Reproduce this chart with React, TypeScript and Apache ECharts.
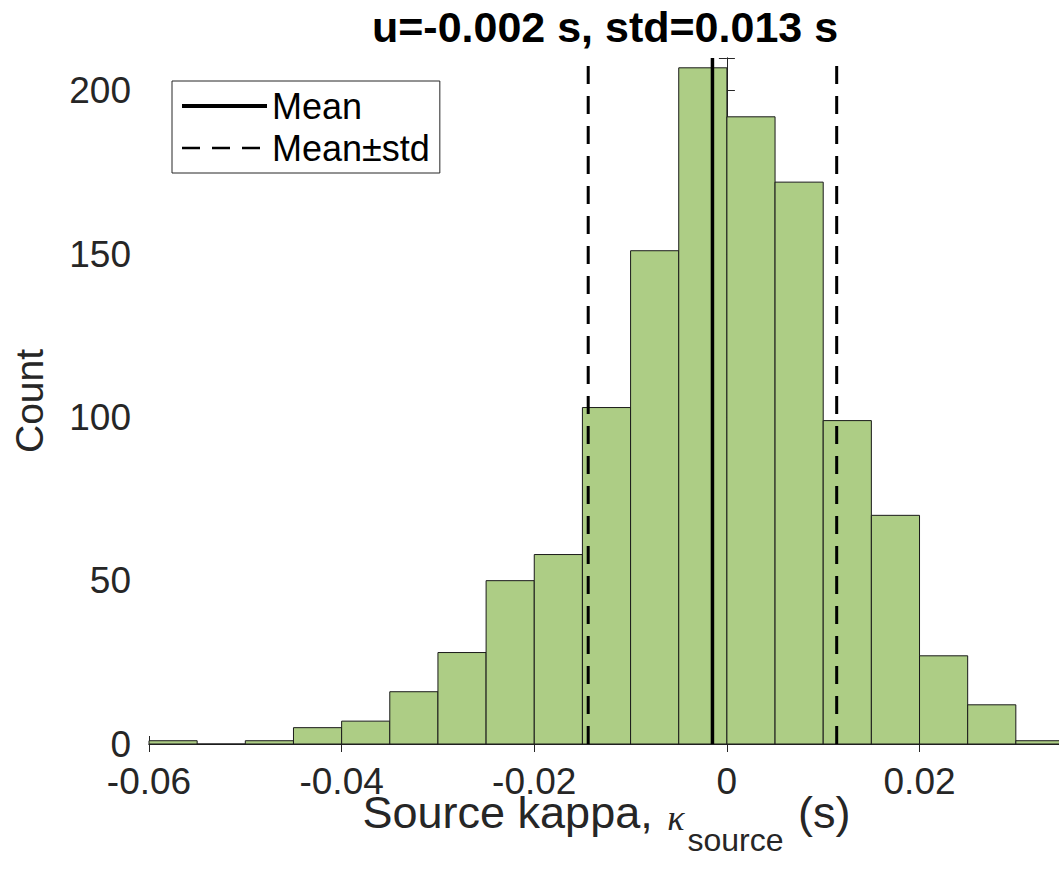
import React, { useEffect, useRef } from 'react';
import * as echarts from 'echarts';

const binLeft = [-0.06, -0.055, -0.05, -0.045, -0.04, -0.035, -0.03, -0.025, -0.02, -0.015, -0.01, -0.005, 0, 0.005, 0.01, 0.015, 0.02, 0.025, 0.03];
const binRight = [-0.055, -0.05, -0.045, -0.04, -0.035, -0.03, -0.025, -0.02, -0.015, -0.01, -0.005, 0, 0.005, 0.01, 0.015, 0.02, 0.025, 0.03, 0.035];
const counts = [1, 0, 1, 5, 7, 16, 28, 50, 58, 103, 151, 207, 192, 172, 99, 70, 27, 12, 1];
const meanValue = -0.0015;
const stdValue = 0.0129;
const xTicks = [-0.06, -0.04, -0.02, 0, 0.02];
const yTicks = [0, 50, 100, 150, 200];
const titleText = 'u=-0.002 s, std=0.013 s';
const legendNames = ['Mean', 'Mean\u00b1std'];

export default function App() {
  const ref = useRef<HTMLDivElement>(null);
  useEffect(() => {
    const chart = echarts.init(ref.current as HTMLDivElement, null, { renderer: 'svg' });
    const axisColor = '#262626';
    const font = 'Arial, "Liberation Sans", Helvetica, sans-serif';
    const xMin = -0.06, xMax = 0.035, yMin = 0, yMax = 210;
    const fmtX = (v: number) => {
      const hit = xTicks.find((t) => Math.abs(t - v) < 1e-9);
      return hit === undefined ? '' : String(hit);
    };
    const fmtY = (v: number) => {
      const hit = yTicks.find((t) => Math.abs(t - v) < 1e-9);
      return hit === undefined ? '' : String(hit);
    };
    const axisLine = { show: true, lineStyle: { color: axisColor, width: 1 } };
    const axisTick = { show: true, inside: true, length: 8, lineStyle: { color: axisColor, width: 1 } };
    const histData = binLeft.map((l, i) => [l, binRight[i], counts[i]]);
    const lo = meanValue - stdValue;
    const hi = meanValue + stdValue;

    chart.setOption({
      animation: false,
      backgroundColor: '#ffffff',
      graphic: [
        {
          type: 'text',
          x: 605,
          y: 5,
          style: {
            text: titleText,
            fontFamily: font,
            fontSize: 43,
            fontWeight: 'bold',
            fill: '#000',
            textAlign: 'center',
            textVerticalAlign: 'top',
          },
        },
      ],
      legend: {
        data: [
          { name: legendNames[0], lineStyle: { width: 4 } },
          { name: legendNames[1], lineStyle: { width: 2.5 } },
        ],
        orient: 'vertical',
        left: 172,
        top: 81,
        itemWidth: 85,
        itemHeight: 14,
        itemGap: 6,
        padding: [7, 10, 7, 8],
        borderColor: '#262626',
        borderWidth: 1,
        backgroundColor: '#ffffff',
        selectedMode: false,
        itemStyle: { opacity: 0, color: 'transparent', borderColor: 'transparent', borderWidth: 0 },
        textStyle: { fontFamily: font, fontSize: 36, color: '#000' },
      },
      grid: { left: 149, top: 58, right: 2, bottom: 127, outerBoundsMode: 'none', containLabel: false },
      xAxis: [
        {
          type: 'value',
          min: xMin,
          max: xMax,
          interval: 0.02,
          axisLine,
          axisTick,
          splitLine: { show: false },
          axisLabel: { formatter: fmtX, fontFamily: font, fontSize: 37, lineHeight: 28, color: axisColor, margin: 23 },
          name: '{a|Source kappa, }{k|\u03ba}{s|source}{a| (s)}',
          nameLocation: 'middle',
          nameGap: 24,
          nameMoveOverlap: false,
          nameTextStyle: {
            rich: {
              a: { fontFamily: font, fontSize: 45, color: axisColor },
              k: { fontFamily: '"Liberation Serif", "DejaVu Serif", serif', fontStyle: 'italic', fontSize: 36, color: axisColor, padding: [12, 3, 0, 2] },
              s: { fontFamily: font, fontSize: 32, color: axisColor, padding: [56, 2, 0, 0] },
            },
          },
        },
        {
          type: 'value',
          position: 'top',
          min: xMin,
          max: xMax,
          interval: 0.02,
          axisLine,
          axisTick,
          splitLine: { show: false },
          axisLabel: { show: false },
        },
      ],
      yAxis: [
        {
          type: 'value',
          min: yMin,
          max: yMax,
          interval: 50,
          axisLine,
          axisTick,
          splitLine: { show: false },
          axisLabel: { formatter: fmtY, fontFamily: font, fontSize: 37, lineHeight: 28, color: axisColor, margin: 18 },
          name: 'Count',
          nameLocation: 'middle',
          nameRotate: 90,
          nameGap: 100,
          nameMoveOverlap: false,
          nameTextStyle: { fontFamily: font, fontSize: 39, color: axisColor },
        },
        {
          type: 'value',
          position: 'right',
          min: yMin,
          max: yMax,
          interval: 50,
          axisLine,
          axisTick,
          splitLine: { show: false },
          axisLabel: { show: false },
        },
      ],
      series: [
        {
          type: 'custom',
          name: 'hist',
          xAxisIndex: 0,
          yAxisIndex: 0,
          data: histData,
          encode: { x: [0, 1], y: 2 },
          renderItem: (params: any, api: any) => {
            const p0 = api.coord([api.value(0), api.value(2)]);
            const p1 = api.coord([api.value(1), 0]);
            return {
              type: 'rect',
              shape: { x: p0[0], y: p0[1], width: p1[0] - p0[0], height: p1[1] - p0[1] },
              style: { fill: '#adcd85', stroke: '#1a1a1a', lineWidth: 1 },
            };
          },
        },
        {
          type: 'line',
          name: legendNames[0],
          data: [[meanValue, yMin], [meanValue, yMax]],
          symbol: 'none',
          lineStyle: { color: '#000', width: 3.5 },
          itemStyle: { color: '#000' },
          z: 5,
        },
        {
          type: 'line',
          name: legendNames[1],
          data: [[lo, yMin], [lo, yMax]],
          symbol: 'none',
          lineStyle: { color: '#000', width: 3, type: [18, 12] },
          itemStyle: { color: '#000' },
          z: 5,
        },
        {
          type: 'line',
          name: legendNames[1],
          data: [[hi, yMin], [hi, yMax]],
          symbol: 'none',
          lineStyle: { color: '#000', width: 3, type: [18, 12] },
          itemStyle: { color: '#000' },
          z: 5,
        },
      ],
    });
    return () => chart.dispose();
  }, []);
  return (
    <div style={{ position: 'absolute', left: 0, top: 0, width: 1059, height: 871, overflow: 'hidden' }}>
      <div ref={ref} style={{ width: 1066, height: 871 }} />
    </div>
  );
}
